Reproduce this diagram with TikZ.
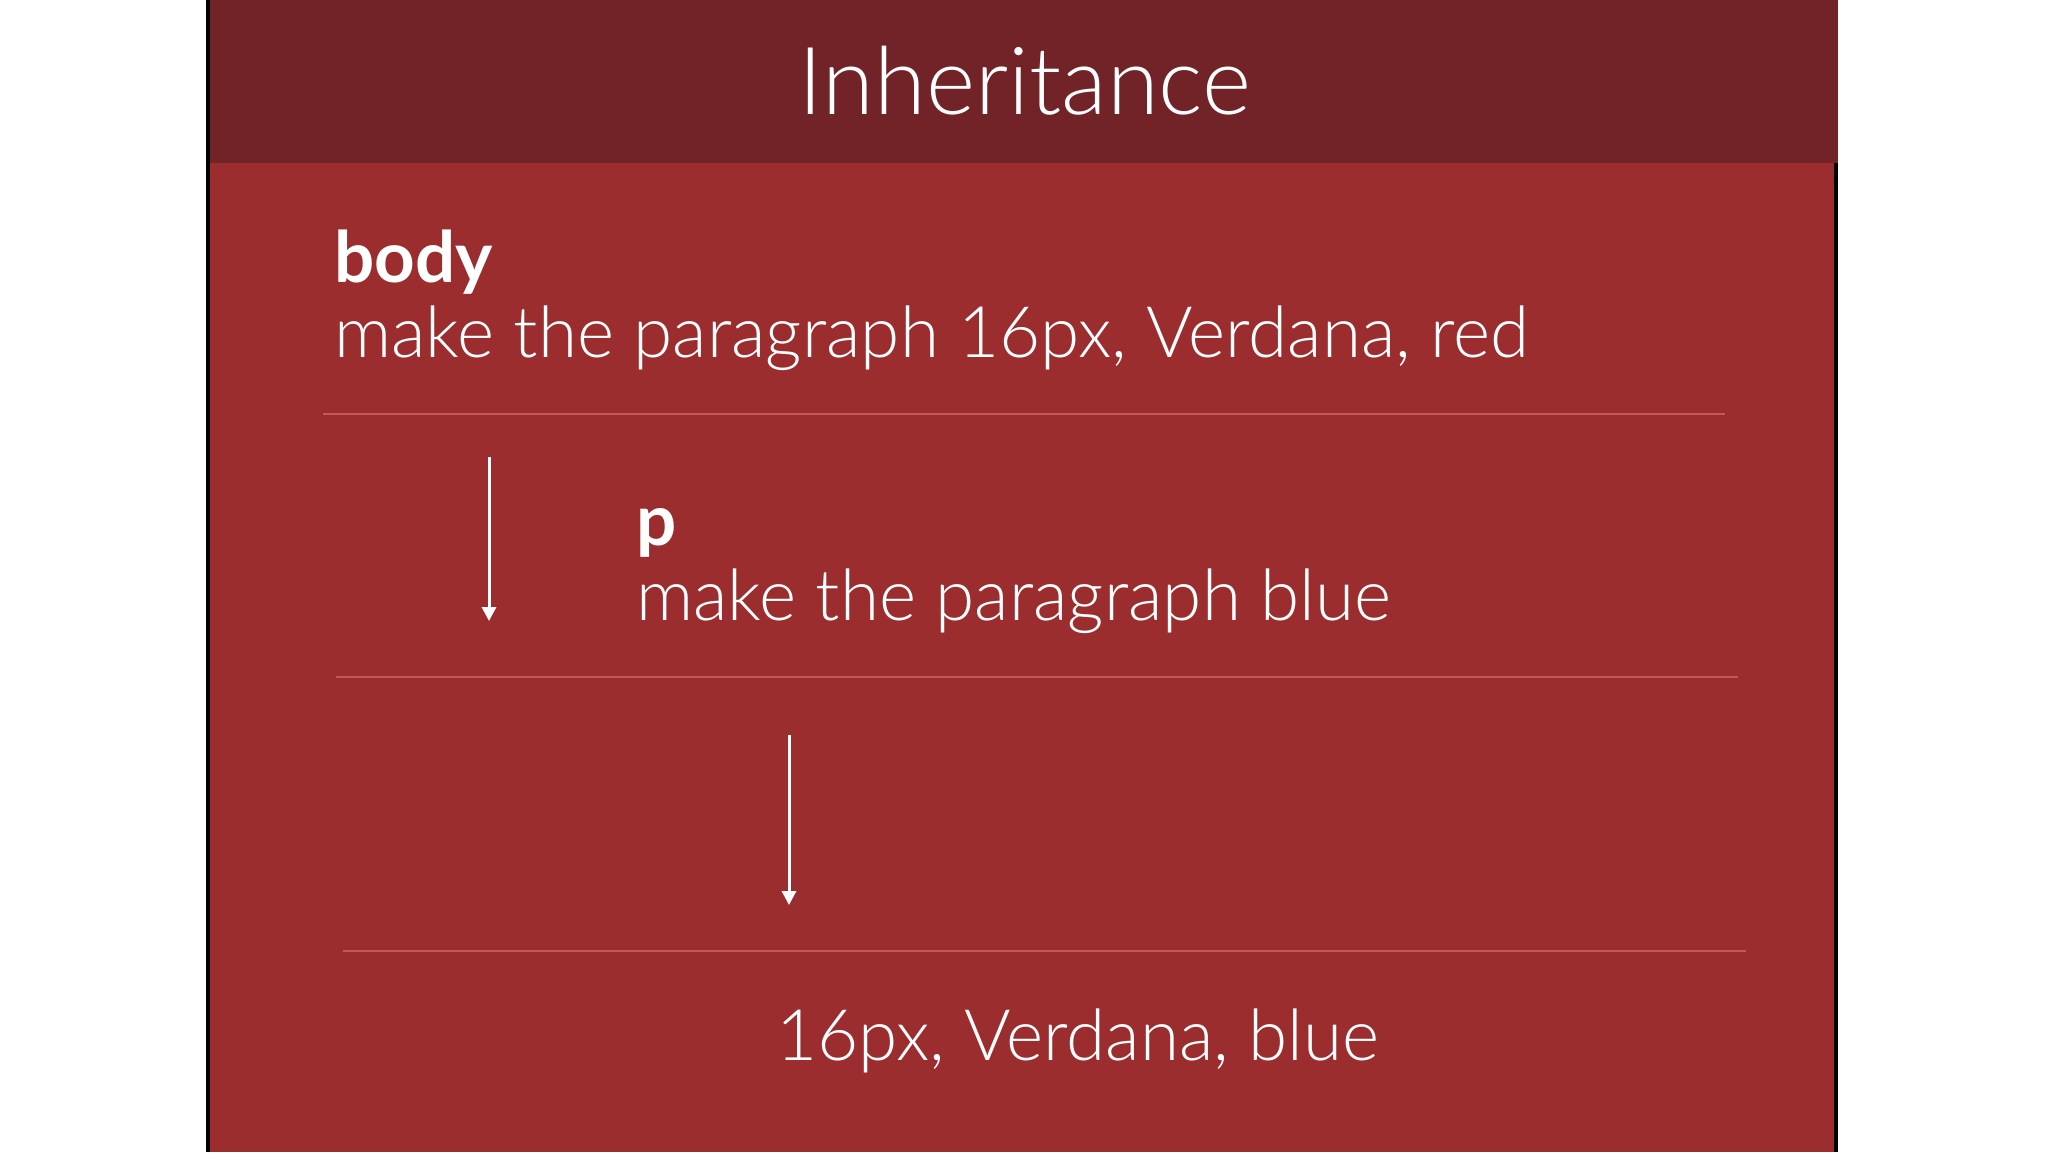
\documentclass[tikz,border=0pt]{standalone}
\usepackage{fontspec}
\setmainfont{Lato}
\newfontfamily\lightfont{Lato Light}
\usetikzlibrary{arrows.meta}
\definecolor{hdrred}{HTML}{722327}
\definecolor{bodyred}{HTML}{9C2D2E}
\definecolor{sepred}{HTML}{C05A5A}
\begin{document}
\begin{tikzpicture}[x=0.5pt,y=-0.5pt,
  sepline/.style={draw=sepred,line width=0.8pt},
  downarrow/.style={draw=white,line width=1.5pt,-{Triangle[width=7pt,length=7pt]}},
  titletext/.style={text=white,inner sep=0pt,anchor=base,font=\lightfont\fontsize{47}{57}\selectfont},
  headtext/.style={text=white,inner sep=0pt,anchor=base west,font=\fontsize{35.4}{43}\selectfont\bfseries},
  plaintext/.style={text=white,inner sep=0pt,anchor=base west,font=\lightfont\fontsize{35.5}{43}\selectfont}]
\useasboundingbox (0,0) rectangle (2048,1152);
\fill[white] (0,0) rectangle (2048,1152);
\fill[black] (206,0) rectangle (210,1152);
\fill[hdrred] (210,0) rectangle (1838,163);
\fill[bodyred] (210,163) rectangle (1834,1152);
\fill[black] (1834,163) rectangle (1838,1152);
\draw[sepline] (323,414) -- (1725,414);
\draw[sepline] (336,677) -- (1738,677);
\draw[sepline] (343,951) -- (1746,951);
\node[titletext] (title) at (1025,114) {Inheritance};
\node[headtext] (bodyhead) at (334,282) {body};
\node[plaintext] (bodyrule) at (334,357) {make the paragraph 16px, Verdana, red};
\node[headtext] (phead) at (636,545) {p};
\node[plaintext] (prule) at (636,620) {make the paragraph blue};
\node[plaintext] (result) at (776,1060) {16px, Verdana, blue};
\coordinate (a1s) at (489,457);
\coordinate (a1e) at (489,621);
\coordinate (a2s) at (789,735);
\coordinate (a2e) at (789,905);
\draw[downarrow] (a1s) -- (a1e);
\draw[downarrow] (a2s) -- (a2e);
\end{tikzpicture}
\end{document}
